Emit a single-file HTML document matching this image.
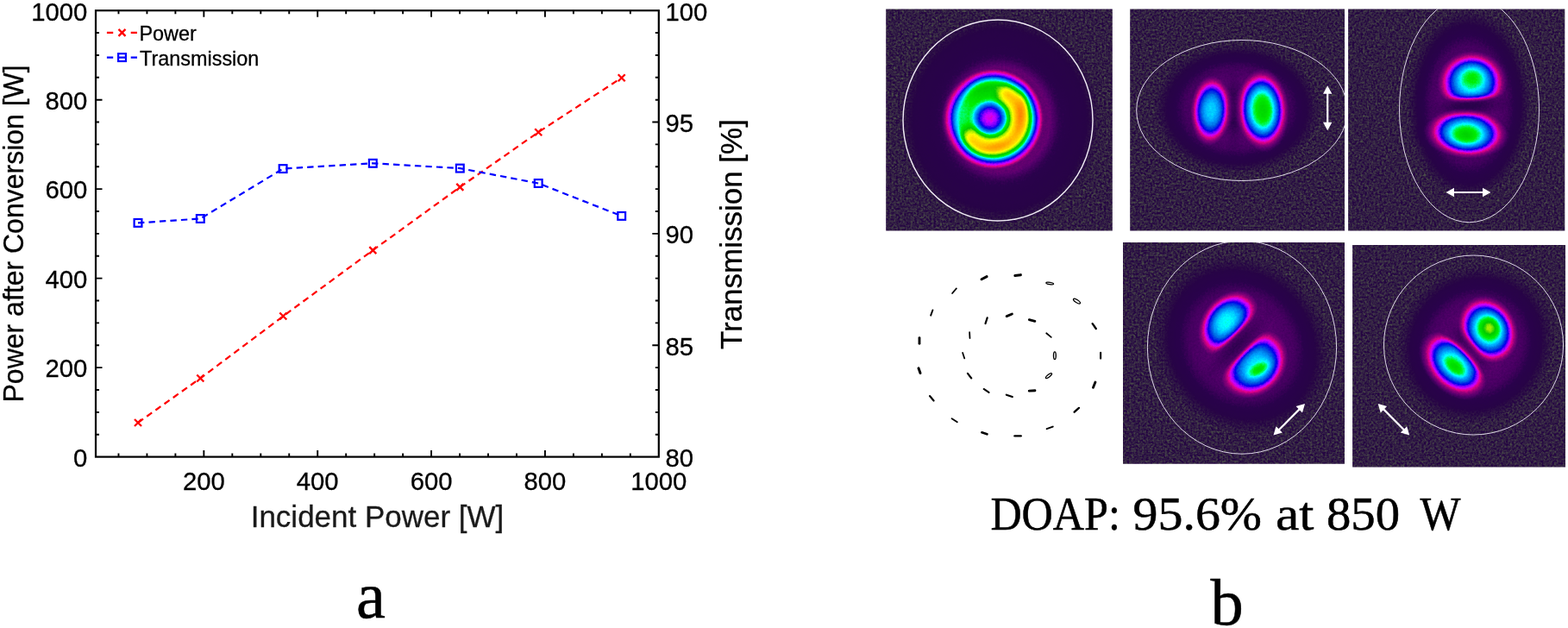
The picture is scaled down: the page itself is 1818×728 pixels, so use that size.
<!DOCTYPE html>
<html lang="en"><head><meta charset="utf-8"><title>Figure</title>
<style>html,body{margin:0;padding:0;background:#fff}body{width:1818px;height:728px;overflow:hidden}svg{display:block}</style>
</head><body>
<svg width="1818" height="728" viewBox="0 0 1818 728">
<rect width="1818" height="728" fill="#fff"/>
<defs>
<clipPath id="cp0"><rect x="1027.2" y="10.6" width="262.6" height="257.0"/></clipPath>
<filter id="cm0" filterUnits="userSpaceOnUse" x="1015.2" y="-1.4" width="286.6" height="281.0" color-interpolation-filters="sRGB"><feTurbulence type="fractalNoise" baseFrequency="0.41" numOctaves="2" seed="3" result="n"/><feColorMatrix in="n" type="matrix" values="0 0 0 0 0.337 0 0 0 0 0.392 0 0 0 0 0.290 0.3333 0.3333 0.3333 0 0" result="n1"/><feGaussianBlur in="n1" stdDeviation="0.3" result="n2"/><feComponentTransfer in="n2" result="sp"><feFuncA type="linear" slope="3.0" intercept="-1.170"/></feComponentTransfer><feColorMatrix in="SourceGraphic" type="matrix" values="0 0 0 0 0 0 0 0 0 0 0 0 0 0 0 -18 0 0 0 0.9" result="mk"/><feComposite in="sp" in2="mk" operator="in" result="spm"/><feColorMatrix in="n" type="matrix" values="0 1 0 0 0 0 1 0 0 0 0 1 0 0 0 0 0 0 0 1" result="ng"/><feComposite in="SourceGraphic" in2="ng" operator="arithmetic" k1="0" k2="1" k3="0.03" k4="-0.0150" result="s"/><feComponentTransfer in="s" result="col"><feFuncR type="table" tableValues="0.145 0.146 0.147 0.147 0.148 0.149 0.15 0.15 0.151 0.152 0.153 0.154 0.154 0.155 0.156 0.157 0.157 0.158 0.159 0.16 0.16 0.161 0.162 0.163 0.164 0.164 0.171 0.185 0.198 0.211 0.224 0.237 0.251 0.264 0.277 0.29 0.304 0.317 0.33 0.346 0.363 0.38 0.397 0.414 0.431 0.448 0.464 0.481 0.498 0.515 0.532 0.549 0.578 0.607 0.636 0.665 0.694 0.723 0.752 0.781 0.81 0.84 0.869 0.878 0.871 0.863 0.855 0.848 0.84 0.832 0.824 0.817 0.809 0.791 0.753 0.715 0.676 0.638 0.599 0.561 0.522 0.471 0.414 0.357 0.3 0.243 0.186 0.129 0.071 0.014 0 0 0 0 0 0 0 0 0 0 0 0 0 0 0 0 0 0 0 0 0 0 0 0 0 0 0 0 0 0 0 0 0 0 0 0 0 0 0 0 0 0 0 0 0 0 0 0 0 0 0 0 0 0 0 0 0 0 0 0 0 0 0 0 0 0 0 0 0 0 0 0 0 0 0 0 0 0 0 0.027 0.065 0.104 0.142 0.181 0.219 0.258 0.296 0.334 0.373 0.411 0.45 0.488 0.527 0.565 0.599 0.626 0.653 0.68 0.707 0.734 0.76 0.787 0.814 0.841 0.868 0.895 0.922 0.949 0.976 1 1 1 1 1 1 1 1 1 1 1 1 1 1 1 1 1 1 1 1 1 1 1 1 1 1 1 1 1 1 1 1 1 1 1 1 1 1 1 1 1 1 1 1 1 1 1 1 1 1 1 1 1 1 1 1 1"/><feFuncG type="table" tableValues="0.02 0.019 0.019 0.018 0.018 0.017 0.017 0.016 0.016 0.015 0.015 0.015 0.014 0.014 0.013 0.013 0.012 0.012 0.011 0.011 0.01 0.01 0.009 0.009 0.009 0.008 0.008 0.007 0.006 0.006 0.005 0.004 0.004 0.003 0.003 0.002 0.001 0.001 0 0 0 0 0 0 0 0 0 0 0 0 0 0 0 0 0 0 0 0 0 0 0 0 0 0 0 0 0 0 0 0 0 0 0 0 0 0 0 0 0 0 0 0 0 0 0 0 0 0 0 0 0.019 0.045 0.07 0.096 0.122 0.147 0.173 0.199 0.224 0.25 0.276 0.301 0.327 0.352 0.378 0.401 0.421 0.441 0.461 0.481 0.501 0.521 0.541 0.561 0.581 0.601 0.621 0.641 0.666 0.694 0.722 0.749 0.777 0.805 0.833 0.86 0.888 0.916 0.943 0.971 0.999 0.998 0.996 0.994 0.991 0.989 0.987 0.985 0.983 0.98 0.975 0.97 0.964 0.959 0.954 0.949 0.943 0.938 0.933 0.925 0.918 0.911 0.903 0.896 0.889 0.881 0.874 0.867 0.86 0.852 0.845 0.838 0.83 0.823 0.816 0.808 0.801 0.794 0.787 0.791 0.8 0.809 0.818 0.826 0.835 0.844 0.853 0.862 0.871 0.88 0.889 0.898 0.907 0.916 0.924 0.929 0.934 0.939 0.944 0.949 0.954 0.96 0.965 0.97 0.975 0.98 0.985 0.99 0.995 0.999 0.986 0.972 0.959 0.946 0.933 0.92 0.906 0.893 0.88 0.867 0.854 0.841 0.827 0.814 0.801 0.788 0.775 0.762 0.75 0.738 0.725 0.713 0.701 0.689 0.677 0.665 0.653 0.641 0.629 0.617 0.605 0.593 0.58 0.568 0.556 0.541 0.522 0.503 0.484 0.464 0.445 0.426 0.407 0.388 0.368 0.349 0.33 0.311 0.291 0.272 0.253 0.234 0.215 0.195 0.176 0.157"/><feFuncB type="table" tableValues="0.259 0.26 0.262 0.263 0.265 0.267 0.268 0.27 0.271 0.273 0.274 0.276 0.277 0.279 0.28 0.282 0.283 0.285 0.287 0.288 0.29 0.291 0.293 0.294 0.296 0.297 0.303 0.313 0.323 0.332 0.342 0.352 0.362 0.372 0.382 0.392 0.401 0.411 0.421 0.427 0.431 0.435 0.44 0.444 0.448 0.453 0.457 0.461 0.466 0.47 0.474 0.478 0.483 0.487 0.492 0.496 0.501 0.505 0.51 0.514 0.518 0.523 0.527 0.554 0.6 0.646 0.692 0.738 0.784 0.83 0.877 0.923 0.969 1 1 1 1 1 1 1 1 0.994 0.985 0.976 0.968 0.959 0.95 0.941 0.933 0.924 0.92 0.917 0.915 0.912 0.909 0.907 0.904 0.902 0.899 0.897 0.894 0.891 0.889 0.886 0.884 0.887 0.896 0.905 0.914 0.923 0.933 0.942 0.951 0.96 0.97 0.979 0.988 0.997 1 1 1 1 1 1 1 1 1 1 1 1 1 0.935 0.867 0.799 0.731 0.663 0.595 0.527 0.459 0.391 0.347 0.303 0.259 0.215 0.171 0.127 0.083 0.04 0 0 0 0 0 0 0 0 0 0 0 0 0 0 0 0 0 0 0 0 0 0 0 0 0 0 0 0 0 0 0 0 0 0 0 0 0 0 0 0 0 0 0 0 0 0 0 0 0 0 0 0 0 0 0 0 0 0 0 0 0 0 0 0 0 0 0 0 0 0 0 0 0 0 0 0 0 0 0 0 0 0 0 0 0 0 0 0 0 0 0 0 0 0 0 0 0 0 0 0 0 0 0 0 0 0 0 0"/></feComponentTransfer><feMerge result="m"><feMergeNode in="col"/><feMergeNode in="spm"/></feMerge><feGaussianBlur in="m" stdDeviation="0.6"/></filter>
<clipPath id="cp1"><rect x="1310.2" y="10.6" width="248.8" height="257.0"/></clipPath>
<filter id="cm1" filterUnits="userSpaceOnUse" x="1298.2" y="-1.4" width="272.8" height="281.0" color-interpolation-filters="sRGB"><feTurbulence type="fractalNoise" baseFrequency="0.41" numOctaves="2" seed="4" result="n"/><feColorMatrix in="n" type="matrix" values="0 0 0 0 0.337 0 0 0 0 0.392 0 0 0 0 0.290 0.3333 0.3333 0.3333 0 0" result="n1"/><feGaussianBlur in="n1" stdDeviation="0.3" result="n2"/><feComponentTransfer in="n2" result="sp"><feFuncA type="linear" slope="3.0" intercept="-1.170"/></feComponentTransfer><feColorMatrix in="SourceGraphic" type="matrix" values="0 0 0 0 0 0 0 0 0 0 0 0 0 0 0 -18 0 0 0 0.9" result="mk"/><feComposite in="sp" in2="mk" operator="in" result="spm"/><feColorMatrix in="n" type="matrix" values="0 1 0 0 0 0 1 0 0 0 0 1 0 0 0 0 0 0 0 1" result="ng"/><feComposite in="SourceGraphic" in2="ng" operator="arithmetic" k1="0" k2="1" k3="0.03" k4="-0.0150" result="s"/><feComponentTransfer in="s" result="col"><feFuncR type="table" tableValues="0.145 0.146 0.147 0.147 0.148 0.149 0.15 0.15 0.151 0.152 0.153 0.154 0.154 0.155 0.156 0.157 0.157 0.158 0.159 0.16 0.16 0.161 0.162 0.163 0.164 0.164 0.171 0.185 0.198 0.211 0.224 0.237 0.251 0.264 0.277 0.29 0.304 0.317 0.33 0.346 0.363 0.38 0.397 0.414 0.431 0.448 0.464 0.481 0.498 0.515 0.532 0.549 0.578 0.607 0.636 0.665 0.694 0.723 0.752 0.781 0.81 0.84 0.869 0.878 0.871 0.863 0.855 0.848 0.84 0.832 0.824 0.817 0.809 0.791 0.753 0.715 0.676 0.638 0.599 0.561 0.522 0.471 0.414 0.357 0.3 0.243 0.186 0.129 0.071 0.014 0 0 0 0 0 0 0 0 0 0 0 0 0 0 0 0 0 0 0 0 0 0 0 0 0 0 0 0 0 0 0 0 0 0 0 0 0 0 0 0 0 0 0 0 0 0 0 0 0 0 0 0 0 0 0 0 0 0 0 0 0 0 0 0 0 0 0 0 0 0 0 0 0 0 0 0 0 0 0 0.027 0.065 0.104 0.142 0.181 0.219 0.258 0.296 0.334 0.373 0.411 0.45 0.488 0.527 0.565 0.599 0.626 0.653 0.68 0.707 0.734 0.76 0.787 0.814 0.841 0.868 0.895 0.922 0.949 0.976 1 1 1 1 1 1 1 1 1 1 1 1 1 1 1 1 1 1 1 1 1 1 1 1 1 1 1 1 1 1 1 1 1 1 1 1 1 1 1 1 1 1 1 1 1 1 1 1 1 1 1 1 1 1 1 1 1"/><feFuncG type="table" tableValues="0.02 0.019 0.019 0.018 0.018 0.017 0.017 0.016 0.016 0.015 0.015 0.015 0.014 0.014 0.013 0.013 0.012 0.012 0.011 0.011 0.01 0.01 0.009 0.009 0.009 0.008 0.008 0.007 0.006 0.006 0.005 0.004 0.004 0.003 0.003 0.002 0.001 0.001 0 0 0 0 0 0 0 0 0 0 0 0 0 0 0 0 0 0 0 0 0 0 0 0 0 0 0 0 0 0 0 0 0 0 0 0 0 0 0 0 0 0 0 0 0 0 0 0 0 0 0 0 0.019 0.045 0.07 0.096 0.122 0.147 0.173 0.199 0.224 0.25 0.276 0.301 0.327 0.352 0.378 0.401 0.421 0.441 0.461 0.481 0.501 0.521 0.541 0.561 0.581 0.601 0.621 0.641 0.666 0.694 0.722 0.749 0.777 0.805 0.833 0.86 0.888 0.916 0.943 0.971 0.999 0.998 0.996 0.994 0.991 0.989 0.987 0.985 0.983 0.98 0.975 0.97 0.964 0.959 0.954 0.949 0.943 0.938 0.933 0.925 0.918 0.911 0.903 0.896 0.889 0.881 0.874 0.867 0.86 0.852 0.845 0.838 0.83 0.823 0.816 0.808 0.801 0.794 0.787 0.791 0.8 0.809 0.818 0.826 0.835 0.844 0.853 0.862 0.871 0.88 0.889 0.898 0.907 0.916 0.924 0.929 0.934 0.939 0.944 0.949 0.954 0.96 0.965 0.97 0.975 0.98 0.985 0.99 0.995 0.999 0.986 0.972 0.959 0.946 0.933 0.92 0.906 0.893 0.88 0.867 0.854 0.841 0.827 0.814 0.801 0.788 0.775 0.762 0.75 0.738 0.725 0.713 0.701 0.689 0.677 0.665 0.653 0.641 0.629 0.617 0.605 0.593 0.58 0.568 0.556 0.541 0.522 0.503 0.484 0.464 0.445 0.426 0.407 0.388 0.368 0.349 0.33 0.311 0.291 0.272 0.253 0.234 0.215 0.195 0.176 0.157"/><feFuncB type="table" tableValues="0.259 0.26 0.262 0.263 0.265 0.267 0.268 0.27 0.271 0.273 0.274 0.276 0.277 0.279 0.28 0.282 0.283 0.285 0.287 0.288 0.29 0.291 0.293 0.294 0.296 0.297 0.303 0.313 0.323 0.332 0.342 0.352 0.362 0.372 0.382 0.392 0.401 0.411 0.421 0.427 0.431 0.435 0.44 0.444 0.448 0.453 0.457 0.461 0.466 0.47 0.474 0.478 0.483 0.487 0.492 0.496 0.501 0.505 0.51 0.514 0.518 0.523 0.527 0.554 0.6 0.646 0.692 0.738 0.784 0.83 0.877 0.923 0.969 1 1 1 1 1 1 1 1 0.994 0.985 0.976 0.968 0.959 0.95 0.941 0.933 0.924 0.92 0.917 0.915 0.912 0.909 0.907 0.904 0.902 0.899 0.897 0.894 0.891 0.889 0.886 0.884 0.887 0.896 0.905 0.914 0.923 0.933 0.942 0.951 0.96 0.97 0.979 0.988 0.997 1 1 1 1 1 1 1 1 1 1 1 1 1 0.935 0.867 0.799 0.731 0.663 0.595 0.527 0.459 0.391 0.347 0.303 0.259 0.215 0.171 0.127 0.083 0.04 0 0 0 0 0 0 0 0 0 0 0 0 0 0 0 0 0 0 0 0 0 0 0 0 0 0 0 0 0 0 0 0 0 0 0 0 0 0 0 0 0 0 0 0 0 0 0 0 0 0 0 0 0 0 0 0 0 0 0 0 0 0 0 0 0 0 0 0 0 0 0 0 0 0 0 0 0 0 0 0 0 0 0 0 0 0 0 0 0 0 0 0 0 0 0 0 0 0 0 0 0 0 0 0 0 0 0 0"/></feComponentTransfer><feMerge result="m"><feMergeNode in="col"/><feMergeNode in="spm"/></feMerge><feGaussianBlur in="m" stdDeviation="0.6"/></filter>
<clipPath id="cp2"><rect x="1563.1" y="10.6" width="251.2" height="257.0"/></clipPath>
<filter id="cm2" filterUnits="userSpaceOnUse" x="1551.1" y="-1.4" width="275.2" height="281.0" color-interpolation-filters="sRGB"><feTurbulence type="fractalNoise" baseFrequency="0.41" numOctaves="2" seed="5" result="n"/><feColorMatrix in="n" type="matrix" values="0 0 0 0 0.337 0 0 0 0 0.392 0 0 0 0 0.290 0.3333 0.3333 0.3333 0 0" result="n1"/><feGaussianBlur in="n1" stdDeviation="0.3" result="n2"/><feComponentTransfer in="n2" result="sp"><feFuncA type="linear" slope="3.0" intercept="-1.170"/></feComponentTransfer><feColorMatrix in="SourceGraphic" type="matrix" values="0 0 0 0 0 0 0 0 0 0 0 0 0 0 0 -18 0 0 0 0.9" result="mk"/><feComposite in="sp" in2="mk" operator="in" result="spm"/><feColorMatrix in="n" type="matrix" values="0 1 0 0 0 0 1 0 0 0 0 1 0 0 0 0 0 0 0 1" result="ng"/><feComposite in="SourceGraphic" in2="ng" operator="arithmetic" k1="0" k2="1" k3="0.03" k4="-0.0150" result="s"/><feComponentTransfer in="s" result="col"><feFuncR type="table" tableValues="0.145 0.146 0.147 0.147 0.148 0.149 0.15 0.15 0.151 0.152 0.153 0.154 0.154 0.155 0.156 0.157 0.157 0.158 0.159 0.16 0.16 0.161 0.162 0.163 0.164 0.164 0.171 0.185 0.198 0.211 0.224 0.237 0.251 0.264 0.277 0.29 0.304 0.317 0.33 0.346 0.363 0.38 0.397 0.414 0.431 0.448 0.464 0.481 0.498 0.515 0.532 0.549 0.578 0.607 0.636 0.665 0.694 0.723 0.752 0.781 0.81 0.84 0.869 0.878 0.871 0.863 0.855 0.848 0.84 0.832 0.824 0.817 0.809 0.791 0.753 0.715 0.676 0.638 0.599 0.561 0.522 0.471 0.414 0.357 0.3 0.243 0.186 0.129 0.071 0.014 0 0 0 0 0 0 0 0 0 0 0 0 0 0 0 0 0 0 0 0 0 0 0 0 0 0 0 0 0 0 0 0 0 0 0 0 0 0 0 0 0 0 0 0 0 0 0 0 0 0 0 0 0 0 0 0 0 0 0 0 0 0 0 0 0 0 0 0 0 0 0 0 0 0 0 0 0 0 0 0.027 0.065 0.104 0.142 0.181 0.219 0.258 0.296 0.334 0.373 0.411 0.45 0.488 0.527 0.565 0.599 0.626 0.653 0.68 0.707 0.734 0.76 0.787 0.814 0.841 0.868 0.895 0.922 0.949 0.976 1 1 1 1 1 1 1 1 1 1 1 1 1 1 1 1 1 1 1 1 1 1 1 1 1 1 1 1 1 1 1 1 1 1 1 1 1 1 1 1 1 1 1 1 1 1 1 1 1 1 1 1 1 1 1 1 1"/><feFuncG type="table" tableValues="0.02 0.019 0.019 0.018 0.018 0.017 0.017 0.016 0.016 0.015 0.015 0.015 0.014 0.014 0.013 0.013 0.012 0.012 0.011 0.011 0.01 0.01 0.009 0.009 0.009 0.008 0.008 0.007 0.006 0.006 0.005 0.004 0.004 0.003 0.003 0.002 0.001 0.001 0 0 0 0 0 0 0 0 0 0 0 0 0 0 0 0 0 0 0 0 0 0 0 0 0 0 0 0 0 0 0 0 0 0 0 0 0 0 0 0 0 0 0 0 0 0 0 0 0 0 0 0 0.019 0.045 0.07 0.096 0.122 0.147 0.173 0.199 0.224 0.25 0.276 0.301 0.327 0.352 0.378 0.401 0.421 0.441 0.461 0.481 0.501 0.521 0.541 0.561 0.581 0.601 0.621 0.641 0.666 0.694 0.722 0.749 0.777 0.805 0.833 0.86 0.888 0.916 0.943 0.971 0.999 0.998 0.996 0.994 0.991 0.989 0.987 0.985 0.983 0.98 0.975 0.97 0.964 0.959 0.954 0.949 0.943 0.938 0.933 0.925 0.918 0.911 0.903 0.896 0.889 0.881 0.874 0.867 0.86 0.852 0.845 0.838 0.83 0.823 0.816 0.808 0.801 0.794 0.787 0.791 0.8 0.809 0.818 0.826 0.835 0.844 0.853 0.862 0.871 0.88 0.889 0.898 0.907 0.916 0.924 0.929 0.934 0.939 0.944 0.949 0.954 0.96 0.965 0.97 0.975 0.98 0.985 0.99 0.995 0.999 0.986 0.972 0.959 0.946 0.933 0.92 0.906 0.893 0.88 0.867 0.854 0.841 0.827 0.814 0.801 0.788 0.775 0.762 0.75 0.738 0.725 0.713 0.701 0.689 0.677 0.665 0.653 0.641 0.629 0.617 0.605 0.593 0.58 0.568 0.556 0.541 0.522 0.503 0.484 0.464 0.445 0.426 0.407 0.388 0.368 0.349 0.33 0.311 0.291 0.272 0.253 0.234 0.215 0.195 0.176 0.157"/><feFuncB type="table" tableValues="0.259 0.26 0.262 0.263 0.265 0.267 0.268 0.27 0.271 0.273 0.274 0.276 0.277 0.279 0.28 0.282 0.283 0.285 0.287 0.288 0.29 0.291 0.293 0.294 0.296 0.297 0.303 0.313 0.323 0.332 0.342 0.352 0.362 0.372 0.382 0.392 0.401 0.411 0.421 0.427 0.431 0.435 0.44 0.444 0.448 0.453 0.457 0.461 0.466 0.47 0.474 0.478 0.483 0.487 0.492 0.496 0.501 0.505 0.51 0.514 0.518 0.523 0.527 0.554 0.6 0.646 0.692 0.738 0.784 0.83 0.877 0.923 0.969 1 1 1 1 1 1 1 1 0.994 0.985 0.976 0.968 0.959 0.95 0.941 0.933 0.924 0.92 0.917 0.915 0.912 0.909 0.907 0.904 0.902 0.899 0.897 0.894 0.891 0.889 0.886 0.884 0.887 0.896 0.905 0.914 0.923 0.933 0.942 0.951 0.96 0.97 0.979 0.988 0.997 1 1 1 1 1 1 1 1 1 1 1 1 1 0.935 0.867 0.799 0.731 0.663 0.595 0.527 0.459 0.391 0.347 0.303 0.259 0.215 0.171 0.127 0.083 0.04 0 0 0 0 0 0 0 0 0 0 0 0 0 0 0 0 0 0 0 0 0 0 0 0 0 0 0 0 0 0 0 0 0 0 0 0 0 0 0 0 0 0 0 0 0 0 0 0 0 0 0 0 0 0 0 0 0 0 0 0 0 0 0 0 0 0 0 0 0 0 0 0 0 0 0 0 0 0 0 0 0 0 0 0 0 0 0 0 0 0 0 0 0 0 0 0 0 0 0 0 0 0 0 0 0 0 0 0"/></feComponentTransfer><feMerge result="m"><feMergeNode in="col"/><feMergeNode in="spm"/></feMerge><feGaussianBlur in="m" stdDeviation="0.6"/></filter>
<clipPath id="cp3"><rect x="1302.0" y="280.9" width="257.0" height="256.8"/></clipPath>
<filter id="cm3" filterUnits="userSpaceOnUse" x="1290.0" y="268.9" width="281.0" height="280.8" color-interpolation-filters="sRGB"><feTurbulence type="fractalNoise" baseFrequency="0.41" numOctaves="2" seed="6" result="n"/><feColorMatrix in="n" type="matrix" values="0 0 0 0 0.337 0 0 0 0 0.392 0 0 0 0 0.290 0.3333 0.3333 0.3333 0 0" result="n1"/><feGaussianBlur in="n1" stdDeviation="0.3" result="n2"/><feComponentTransfer in="n2" result="sp"><feFuncA type="linear" slope="3.0" intercept="-1.170"/></feComponentTransfer><feColorMatrix in="SourceGraphic" type="matrix" values="0 0 0 0 0 0 0 0 0 0 0 0 0 0 0 -18 0 0 0 0.9" result="mk"/><feComposite in="sp" in2="mk" operator="in" result="spm"/><feColorMatrix in="n" type="matrix" values="0 1 0 0 0 0 1 0 0 0 0 1 0 0 0 0 0 0 0 1" result="ng"/><feComposite in="SourceGraphic" in2="ng" operator="arithmetic" k1="0" k2="1" k3="0.03" k4="-0.0150" result="s"/><feComponentTransfer in="s" result="col"><feFuncR type="table" tableValues="0.145 0.146 0.147 0.147 0.148 0.149 0.15 0.15 0.151 0.152 0.153 0.154 0.154 0.155 0.156 0.157 0.157 0.158 0.159 0.16 0.16 0.161 0.162 0.163 0.164 0.164 0.171 0.185 0.198 0.211 0.224 0.237 0.251 0.264 0.277 0.29 0.304 0.317 0.33 0.346 0.363 0.38 0.397 0.414 0.431 0.448 0.464 0.481 0.498 0.515 0.532 0.549 0.578 0.607 0.636 0.665 0.694 0.723 0.752 0.781 0.81 0.84 0.869 0.878 0.871 0.863 0.855 0.848 0.84 0.832 0.824 0.817 0.809 0.791 0.753 0.715 0.676 0.638 0.599 0.561 0.522 0.471 0.414 0.357 0.3 0.243 0.186 0.129 0.071 0.014 0 0 0 0 0 0 0 0 0 0 0 0 0 0 0 0 0 0 0 0 0 0 0 0 0 0 0 0 0 0 0 0 0 0 0 0 0 0 0 0 0 0 0 0 0 0 0 0 0 0 0 0 0 0 0 0 0 0 0 0 0 0 0 0 0 0 0 0 0 0 0 0 0 0 0 0 0 0 0 0.027 0.065 0.104 0.142 0.181 0.219 0.258 0.296 0.334 0.373 0.411 0.45 0.488 0.527 0.565 0.599 0.626 0.653 0.68 0.707 0.734 0.76 0.787 0.814 0.841 0.868 0.895 0.922 0.949 0.976 1 1 1 1 1 1 1 1 1 1 1 1 1 1 1 1 1 1 1 1 1 1 1 1 1 1 1 1 1 1 1 1 1 1 1 1 1 1 1 1 1 1 1 1 1 1 1 1 1 1 1 1 1 1 1 1 1"/><feFuncG type="table" tableValues="0.02 0.019 0.019 0.018 0.018 0.017 0.017 0.016 0.016 0.015 0.015 0.015 0.014 0.014 0.013 0.013 0.012 0.012 0.011 0.011 0.01 0.01 0.009 0.009 0.009 0.008 0.008 0.007 0.006 0.006 0.005 0.004 0.004 0.003 0.003 0.002 0.001 0.001 0 0 0 0 0 0 0 0 0 0 0 0 0 0 0 0 0 0 0 0 0 0 0 0 0 0 0 0 0 0 0 0 0 0 0 0 0 0 0 0 0 0 0 0 0 0 0 0 0 0 0 0 0.019 0.045 0.07 0.096 0.122 0.147 0.173 0.199 0.224 0.25 0.276 0.301 0.327 0.352 0.378 0.401 0.421 0.441 0.461 0.481 0.501 0.521 0.541 0.561 0.581 0.601 0.621 0.641 0.666 0.694 0.722 0.749 0.777 0.805 0.833 0.86 0.888 0.916 0.943 0.971 0.999 0.998 0.996 0.994 0.991 0.989 0.987 0.985 0.983 0.98 0.975 0.97 0.964 0.959 0.954 0.949 0.943 0.938 0.933 0.925 0.918 0.911 0.903 0.896 0.889 0.881 0.874 0.867 0.86 0.852 0.845 0.838 0.83 0.823 0.816 0.808 0.801 0.794 0.787 0.791 0.8 0.809 0.818 0.826 0.835 0.844 0.853 0.862 0.871 0.88 0.889 0.898 0.907 0.916 0.924 0.929 0.934 0.939 0.944 0.949 0.954 0.96 0.965 0.97 0.975 0.98 0.985 0.99 0.995 0.999 0.986 0.972 0.959 0.946 0.933 0.92 0.906 0.893 0.88 0.867 0.854 0.841 0.827 0.814 0.801 0.788 0.775 0.762 0.75 0.738 0.725 0.713 0.701 0.689 0.677 0.665 0.653 0.641 0.629 0.617 0.605 0.593 0.58 0.568 0.556 0.541 0.522 0.503 0.484 0.464 0.445 0.426 0.407 0.388 0.368 0.349 0.33 0.311 0.291 0.272 0.253 0.234 0.215 0.195 0.176 0.157"/><feFuncB type="table" tableValues="0.259 0.26 0.262 0.263 0.265 0.267 0.268 0.27 0.271 0.273 0.274 0.276 0.277 0.279 0.28 0.282 0.283 0.285 0.287 0.288 0.29 0.291 0.293 0.294 0.296 0.297 0.303 0.313 0.323 0.332 0.342 0.352 0.362 0.372 0.382 0.392 0.401 0.411 0.421 0.427 0.431 0.435 0.44 0.444 0.448 0.453 0.457 0.461 0.466 0.47 0.474 0.478 0.483 0.487 0.492 0.496 0.501 0.505 0.51 0.514 0.518 0.523 0.527 0.554 0.6 0.646 0.692 0.738 0.784 0.83 0.877 0.923 0.969 1 1 1 1 1 1 1 1 0.994 0.985 0.976 0.968 0.959 0.95 0.941 0.933 0.924 0.92 0.917 0.915 0.912 0.909 0.907 0.904 0.902 0.899 0.897 0.894 0.891 0.889 0.886 0.884 0.887 0.896 0.905 0.914 0.923 0.933 0.942 0.951 0.96 0.97 0.979 0.988 0.997 1 1 1 1 1 1 1 1 1 1 1 1 1 0.935 0.867 0.799 0.731 0.663 0.595 0.527 0.459 0.391 0.347 0.303 0.259 0.215 0.171 0.127 0.083 0.04 0 0 0 0 0 0 0 0 0 0 0 0 0 0 0 0 0 0 0 0 0 0 0 0 0 0 0 0 0 0 0 0 0 0 0 0 0 0 0 0 0 0 0 0 0 0 0 0 0 0 0 0 0 0 0 0 0 0 0 0 0 0 0 0 0 0 0 0 0 0 0 0 0 0 0 0 0 0 0 0 0 0 0 0 0 0 0 0 0 0 0 0 0 0 0 0 0 0 0 0 0 0 0 0 0 0 0 0"/></feComponentTransfer><feMerge result="m"><feMergeNode in="col"/><feMergeNode in="spm"/></feMerge><feGaussianBlur in="m" stdDeviation="0.6"/></filter>
<clipPath id="cp4"><rect x="1568.1" y="284.1" width="246.9" height="257.5"/></clipPath>
<filter id="cm4" filterUnits="userSpaceOnUse" x="1556.1" y="272.1" width="270.9" height="281.5" color-interpolation-filters="sRGB"><feTurbulence type="fractalNoise" baseFrequency="0.41" numOctaves="2" seed="7" result="n"/><feColorMatrix in="n" type="matrix" values="0 0 0 0 0.337 0 0 0 0 0.392 0 0 0 0 0.290 0.3333 0.3333 0.3333 0 0" result="n1"/><feGaussianBlur in="n1" stdDeviation="0.3" result="n2"/><feComponentTransfer in="n2" result="sp"><feFuncA type="linear" slope="3.0" intercept="-1.170"/></feComponentTransfer><feColorMatrix in="SourceGraphic" type="matrix" values="0 0 0 0 0 0 0 0 0 0 0 0 0 0 0 -18 0 0 0 0.9" result="mk"/><feComposite in="sp" in2="mk" operator="in" result="spm"/><feColorMatrix in="n" type="matrix" values="0 1 0 0 0 0 1 0 0 0 0 1 0 0 0 0 0 0 0 1" result="ng"/><feComposite in="SourceGraphic" in2="ng" operator="arithmetic" k1="0" k2="1" k3="0.03" k4="-0.0150" result="s"/><feComponentTransfer in="s" result="col"><feFuncR type="table" tableValues="0.145 0.146 0.147 0.147 0.148 0.149 0.15 0.15 0.151 0.152 0.153 0.154 0.154 0.155 0.156 0.157 0.157 0.158 0.159 0.16 0.16 0.161 0.162 0.163 0.164 0.164 0.171 0.185 0.198 0.211 0.224 0.237 0.251 0.264 0.277 0.29 0.304 0.317 0.33 0.346 0.363 0.38 0.397 0.414 0.431 0.448 0.464 0.481 0.498 0.515 0.532 0.549 0.578 0.607 0.636 0.665 0.694 0.723 0.752 0.781 0.81 0.84 0.869 0.878 0.871 0.863 0.855 0.848 0.84 0.832 0.824 0.817 0.809 0.791 0.753 0.715 0.676 0.638 0.599 0.561 0.522 0.471 0.414 0.357 0.3 0.243 0.186 0.129 0.071 0.014 0 0 0 0 0 0 0 0 0 0 0 0 0 0 0 0 0 0 0 0 0 0 0 0 0 0 0 0 0 0 0 0 0 0 0 0 0 0 0 0 0 0 0 0 0 0 0 0 0 0 0 0 0 0 0 0 0 0 0 0 0 0 0 0 0 0 0 0 0 0 0 0 0 0 0 0 0 0 0 0.027 0.065 0.104 0.142 0.181 0.219 0.258 0.296 0.334 0.373 0.411 0.45 0.488 0.527 0.565 0.599 0.626 0.653 0.68 0.707 0.734 0.76 0.787 0.814 0.841 0.868 0.895 0.922 0.949 0.976 1 1 1 1 1 1 1 1 1 1 1 1 1 1 1 1 1 1 1 1 1 1 1 1 1 1 1 1 1 1 1 1 1 1 1 1 1 1 1 1 1 1 1 1 1 1 1 1 1 1 1 1 1 1 1 1 1"/><feFuncG type="table" tableValues="0.02 0.019 0.019 0.018 0.018 0.017 0.017 0.016 0.016 0.015 0.015 0.015 0.014 0.014 0.013 0.013 0.012 0.012 0.011 0.011 0.01 0.01 0.009 0.009 0.009 0.008 0.008 0.007 0.006 0.006 0.005 0.004 0.004 0.003 0.003 0.002 0.001 0.001 0 0 0 0 0 0 0 0 0 0 0 0 0 0 0 0 0 0 0 0 0 0 0 0 0 0 0 0 0 0 0 0 0 0 0 0 0 0 0 0 0 0 0 0 0 0 0 0 0 0 0 0 0.019 0.045 0.07 0.096 0.122 0.147 0.173 0.199 0.224 0.25 0.276 0.301 0.327 0.352 0.378 0.401 0.421 0.441 0.461 0.481 0.501 0.521 0.541 0.561 0.581 0.601 0.621 0.641 0.666 0.694 0.722 0.749 0.777 0.805 0.833 0.86 0.888 0.916 0.943 0.971 0.999 0.998 0.996 0.994 0.991 0.989 0.987 0.985 0.983 0.98 0.975 0.97 0.964 0.959 0.954 0.949 0.943 0.938 0.933 0.925 0.918 0.911 0.903 0.896 0.889 0.881 0.874 0.867 0.86 0.852 0.845 0.838 0.83 0.823 0.816 0.808 0.801 0.794 0.787 0.791 0.8 0.809 0.818 0.826 0.835 0.844 0.853 0.862 0.871 0.88 0.889 0.898 0.907 0.916 0.924 0.929 0.934 0.939 0.944 0.949 0.954 0.96 0.965 0.97 0.975 0.98 0.985 0.99 0.995 0.999 0.986 0.972 0.959 0.946 0.933 0.92 0.906 0.893 0.88 0.867 0.854 0.841 0.827 0.814 0.801 0.788 0.775 0.762 0.75 0.738 0.725 0.713 0.701 0.689 0.677 0.665 0.653 0.641 0.629 0.617 0.605 0.593 0.58 0.568 0.556 0.541 0.522 0.503 0.484 0.464 0.445 0.426 0.407 0.388 0.368 0.349 0.33 0.311 0.291 0.272 0.253 0.234 0.215 0.195 0.176 0.157"/><feFuncB type="table" tableValues="0.259 0.26 0.262 0.263 0.265 0.267 0.268 0.27 0.271 0.273 0.274 0.276 0.277 0.279 0.28 0.282 0.283 0.285 0.287 0.288 0.29 0.291 0.293 0.294 0.296 0.297 0.303 0.313 0.323 0.332 0.342 0.352 0.362 0.372 0.382 0.392 0.401 0.411 0.421 0.427 0.431 0.435 0.44 0.444 0.448 0.453 0.457 0.461 0.466 0.47 0.474 0.478 0.483 0.487 0.492 0.496 0.501 0.505 0.51 0.514 0.518 0.523 0.527 0.554 0.6 0.646 0.692 0.738 0.784 0.83 0.877 0.923 0.969 1 1 1 1 1 1 1 1 0.994 0.985 0.976 0.968 0.959 0.95 0.941 0.933 0.924 0.92 0.917 0.915 0.912 0.909 0.907 0.904 0.902 0.899 0.897 0.894 0.891 0.889 0.886 0.884 0.887 0.896 0.905 0.914 0.923 0.933 0.942 0.951 0.96 0.97 0.979 0.988 0.997 1 1 1 1 1 1 1 1 1 1 1 1 1 0.935 0.867 0.799 0.731 0.663 0.595 0.527 0.459 0.391 0.347 0.303 0.259 0.215 0.171 0.127 0.083 0.04 0 0 0 0 0 0 0 0 0 0 0 0 0 0 0 0 0 0 0 0 0 0 0 0 0 0 0 0 0 0 0 0 0 0 0 0 0 0 0 0 0 0 0 0 0 0 0 0 0 0 0 0 0 0 0 0 0 0 0 0 0 0 0 0 0 0 0 0 0 0 0 0 0 0 0 0 0 0 0 0 0 0 0 0 0 0 0 0 0 0 0 0 0 0 0 0 0 0 0 0 0 0 0 0 0 0 0 0"/></feComponentTransfer><feMerge result="m"><feMergeNode in="col"/><feMergeNode in="spm"/></feMerge><feGaussianBlur in="m" stdDeviation="0.6"/></filter>
<filter id="b3" x="-60%" y="-60%" width="220%" height="220%" color-interpolation-filters="sRGB"><feGaussianBlur stdDeviation="3"/></filter>
<filter id="b4" x="-60%" y="-60%" width="220%" height="220%" color-interpolation-filters="sRGB"><feGaussianBlur stdDeviation="4"/></filter>
<filter id="b5" x="-60%" y="-60%" width="220%" height="220%" color-interpolation-filters="sRGB"><feGaussianBlur stdDeviation="5"/></filter>
<filter id="b6" x="-60%" y="-60%" width="220%" height="220%" color-interpolation-filters="sRGB"><feGaussianBlur stdDeviation="6"/></filter>
<filter id="b8" x="-60%" y="-60%" width="220%" height="220%" color-interpolation-filters="sRGB"><feGaussianBlur stdDeviation="8"/></filter>
<radialGradient id="g1" gradientUnits="userSpaceOnUse" cx="0" cy="0" r="1" gradientTransform="translate(1183.5 131) rotate(6) scale(15 48)"><stop offset="0" stop-color="#fff" stop-opacity="0.5"/><stop offset="0.071" stop-color="#fff" stop-opacity="0.489"/><stop offset="0.143" stop-color="#fff" stop-opacity="0.456"/><stop offset="0.214" stop-color="#fff" stop-opacity="0.407"/><stop offset="0.286" stop-color="#fff" stop-opacity="0.346"/><stop offset="0.357" stop-color="#fff" stop-opacity="0.282"/><stop offset="0.429" stop-color="#fff" stop-opacity="0.219"/><stop offset="0.5" stop-color="#fff" stop-opacity="0.162"/><stop offset="0.571" stop-color="#fff" stop-opacity="0.115"/><stop offset="0.643" stop-color="#fff" stop-opacity="0.078"/><stop offset="0.714" stop-color="#fff" stop-opacity="0.05"/><stop offset="0.786" stop-color="#fff" stop-opacity="0.031"/><stop offset="0.857" stop-color="#fff" stop-opacity="0.018"/><stop offset="0.929" stop-color="#fff" stop-opacity="0.01"/><stop offset="1" stop-color="#fff" stop-opacity="0"/></radialGradient>
<radialGradient id="g2" gradientUnits="userSpaceOnUse" cx="0" cy="0" r="1" gradientTransform="translate(1156 170) rotate(-12) scale(36 12)"><stop offset="0" stop-color="#fff" stop-opacity="0.32"/><stop offset="0.071" stop-color="#fff" stop-opacity="0.313"/><stop offset="0.143" stop-color="#fff" stop-opacity="0.292"/><stop offset="0.214" stop-color="#fff" stop-opacity="0.26"/><stop offset="0.286" stop-color="#fff" stop-opacity="0.222"/><stop offset="0.357" stop-color="#fff" stop-opacity="0.18"/><stop offset="0.429" stop-color="#fff" stop-opacity="0.14"/><stop offset="0.5" stop-color="#fff" stop-opacity="0.104"/><stop offset="0.571" stop-color="#fff" stop-opacity="0.074"/><stop offset="0.643" stop-color="#fff" stop-opacity="0.05"/><stop offset="0.714" stop-color="#fff" stop-opacity="0.032"/><stop offset="0.786" stop-color="#fff" stop-opacity="0.02"/><stop offset="0.857" stop-color="#fff" stop-opacity="0.012"/><stop offset="0.929" stop-color="#fff" stop-opacity="0.007"/><stop offset="1" stop-color="#fff" stop-opacity="0"/></radialGradient>
<radialGradient id="g3" gradientUnits="userSpaceOnUse" cx="0" cy="0" r="1" gradientTransform="translate(1113 133) rotate(8) scale(27 90)"><stop offset="0" stop-color="#000" stop-opacity="0.16"/><stop offset="0.071" stop-color="#000" stop-opacity="0.156"/><stop offset="0.143" stop-color="#000" stop-opacity="0.146"/><stop offset="0.214" stop-color="#000" stop-opacity="0.13"/><stop offset="0.286" stop-color="#000" stop-opacity="0.111"/><stop offset="0.357" stop-color="#000" stop-opacity="0.09"/><stop offset="0.429" stop-color="#000" stop-opacity="0.07"/><stop offset="0.5" stop-color="#000" stop-opacity="0.052"/><stop offset="0.571" stop-color="#000" stop-opacity="0.037"/><stop offset="0.643" stop-color="#000" stop-opacity="0.025"/><stop offset="0.714" stop-color="#000" stop-opacity="0.016"/><stop offset="0.786" stop-color="#000" stop-opacity="0.01"/><stop offset="0.857" stop-color="#000" stop-opacity="0.006"/><stop offset="0.929" stop-color="#000" stop-opacity="0.003"/><stop offset="1" stop-color="#000" stop-opacity="0"/></radialGradient>
<radialGradient id="g4" gradientUnits="userSpaceOnUse" cx="0" cy="0" r="1" gradientTransform="translate(1147.7 136.8) rotate(0) scale(34.5 34.5)"><stop offset="0" stop-color="rgb(69,69,69)" stop-opacity="1"/><stop offset="0.16" stop-color="rgb(69,69,69)" stop-opacity="0.95"/><stop offset="0.34" stop-color="rgb(69,69,69)" stop-opacity="0.81"/><stop offset="0.5" stop-color="rgb(69,69,69)" stop-opacity="0.5"/><stop offset="0.58" stop-color="rgb(69,69,69)" stop-opacity="0.3"/><stop offset="0.72" stop-color="rgb(69,69,69)" stop-opacity="0.1"/><stop offset="1" stop-color="rgb(69,69,69)" stop-opacity="0"/></radialGradient>
<radialGradient id="g5" gradientUnits="userSpaceOnUse" cx="0" cy="0" r="1" gradientTransform="translate(1152.0 138.1) rotate(0) scale(77 77.385)"><stop offset="0" stop-color="#000" stop-opacity="0"/><stop offset="0.487" stop-color="#000" stop-opacity="0"/><stop offset="0.519" stop-color="#000" stop-opacity="0.04"/><stop offset="0.552" stop-color="#000" stop-opacity="0.11"/><stop offset="0.584" stop-color="#000" stop-opacity="0.215"/><stop offset="0.604" stop-color="#000" stop-opacity="0.29"/><stop offset="0.643" stop-color="#000" stop-opacity="0.46"/><stop offset="0.675" stop-color="#000" stop-opacity="0.54"/><stop offset="0.71" stop-color="#000" stop-opacity="0.623"/><stop offset="0.753" stop-color="#000" stop-opacity="0.75"/><stop offset="0.805" stop-color="#000" stop-opacity="0.87"/><stop offset="0.896" stop-color="#000" stop-opacity="0.96"/><stop offset="1" stop-color="#000" stop-opacity="1"/></radialGradient>
<radialGradient id="g6" gradientUnits="userSpaceOnUse" cx="0" cy="0" r="1" gradientTransform="translate(1159 139) rotate(0) scale(118 123)"><stop offset="0" stop-color="rgb(43,43,43)"/><stop offset="0.5" stop-color="rgb(41,41,41)"/><stop offset="0.58" stop-color="rgb(28,28,28)"/><stop offset="0.7" stop-color="rgb(19,19,19)"/><stop offset="0.82" stop-color="rgb(15,15,15)"/><stop offset="0.91" stop-color="rgb(8,8,8)"/><stop offset="1" stop-color="rgb(1,1,1)"/></radialGradient>
<radialGradient id="g7" gradientUnits="userSpaceOnUse" cx="0" cy="0" r="1" gradientTransform="translate(0 0) scale(37.046 62.332)"><stop offset="0" stop-color="#fff" stop-opacity="0.485"/><stop offset="0.062" stop-color="#fff" stop-opacity="0.484"/><stop offset="0.125" stop-color="#fff" stop-opacity="0.478"/><stop offset="0.188" stop-color="#fff" stop-opacity="0.463"/><stop offset="0.25" stop-color="#fff" stop-opacity="0.439"/><stop offset="0.312" stop-color="#fff" stop-opacity="0.404"/><stop offset="0.375" stop-color="#fff" stop-opacity="0.36"/><stop offset="0.438" stop-color="#fff" stop-opacity="0.309"/><stop offset="0.5" stop-color="#fff" stop-opacity="0.254"/><stop offset="0.562" stop-color="#fff" stop-opacity="0.199"/><stop offset="0.625" stop-color="#fff" stop-opacity="0.149"/><stop offset="0.688" stop-color="#fff" stop-opacity="0.105"/><stop offset="0.75" stop-color="#fff" stop-opacity="0.07"/><stop offset="0.812" stop-color="#fff" stop-opacity="0.044"/><stop offset="0.875" stop-color="#fff" stop-opacity="0.026"/><stop offset="0.938" stop-color="#fff" stop-opacity="0.014"/><stop offset="1" stop-color="#fff" stop-opacity="0"/></radialGradient>
<radialGradient id="g8" gradientUnits="userSpaceOnUse" cx="0" cy="0" r="1" gradientTransform="translate(0 0) scale(47.271 68.826)"><stop offset="0" stop-color="#fff" stop-opacity="0.52"/><stop offset="0.062" stop-color="#fff" stop-opacity="0.519"/><stop offset="0.125" stop-color="#fff" stop-opacity="0.512"/><stop offset="0.188" stop-color="#fff" stop-opacity="0.497"/><stop offset="0.25" stop-color="#fff" stop-opacity="0.471"/><stop offset="0.312" stop-color="#fff" stop-opacity="0.434"/><stop offset="0.375" stop-color="#fff" stop-opacity="0.386"/><stop offset="0.438" stop-color="#fff" stop-opacity="0.331"/><stop offset="0.5" stop-color="#fff" stop-opacity="0.272"/><stop offset="0.562" stop-color="#fff" stop-opacity="0.214"/><stop offset="0.625" stop-color="#fff" stop-opacity="0.16"/><stop offset="0.688" stop-color="#fff" stop-opacity="0.113"/><stop offset="0.75" stop-color="#fff" stop-opacity="0.075"/><stop offset="0.812" stop-color="#fff" stop-opacity="0.047"/><stop offset="0.875" stop-color="#fff" stop-opacity="0.028"/><stop offset="0.938" stop-color="#fff" stop-opacity="0.015"/><stop offset="1" stop-color="#fff" stop-opacity="0"/></radialGradient>
<radialGradient id="g9" gradientUnits="userSpaceOnUse" cx="0" cy="0" r="1" gradientTransform="translate(1464.8 127.4) rotate(-3) scale(27.247 55.857)"><stop offset="0" stop-color="#fff" stop-opacity="0.229"/><stop offset="0.083" stop-color="#fff" stop-opacity="0.222"/><stop offset="0.167" stop-color="#fff" stop-opacity="0.202"/><stop offset="0.25" stop-color="#fff" stop-opacity="0.173"/><stop offset="0.333" stop-color="#fff" stop-opacity="0.139"/><stop offset="0.417" stop-color="#fff" stop-opacity="0.105"/><stop offset="0.5" stop-color="#fff" stop-opacity="0.074"/><stop offset="0.583" stop-color="#fff" stop-opacity="0.05"/><stop offset="0.667" stop-color="#fff" stop-opacity="0.031"/><stop offset="0.75" stop-color="#fff" stop-opacity="0.018"/><stop offset="0.833" stop-color="#fff" stop-opacity="0.01"/><stop offset="0.917" stop-color="#fff" stop-opacity="0.005"/><stop offset="1" stop-color="#fff" stop-opacity="0"/></radialGradient>
<radialGradient id="g10" gradientUnits="userSpaceOnUse" cx="0" cy="0" r="1" gradientTransform="translate(1434 126) rotate(0) scale(97 76)"><stop offset="0" stop-color="rgb(40,40,40)"/><stop offset="0.45" stop-color="rgb(38,38,38)"/><stop offset="0.62" stop-color="rgb(33,33,33)"/><stop offset="0.72" stop-color="rgb(26,26,26)"/><stop offset="0.8" stop-color="rgb(15,15,15)"/><stop offset="0.9" stop-color="rgb(8,8,8)"/><stop offset="1" stop-color="rgb(1,1,1)"/></radialGradient>
<radialGradient id="g11" gradientUnits="userSpaceOnUse" cx="0" cy="0" r="1" gradientTransform="translate(1430.5 128) rotate(0) scale(16.5 66)"><stop offset="0" stop-color="#000" stop-opacity="0.4"/><stop offset="0.071" stop-color="#000" stop-opacity="0.391"/><stop offset="0.143" stop-color="#000" stop-opacity="0.365"/><stop offset="0.214" stop-color="#000" stop-opacity="0.325"/><stop offset="0.286" stop-color="#000" stop-opacity="0.277"/><stop offset="0.357" stop-color="#000" stop-opacity="0.225"/><stop offset="0.429" stop-color="#000" stop-opacity="0.175"/><stop offset="0.5" stop-color="#000" stop-opacity="0.13"/><stop offset="0.571" stop-color="#000" stop-opacity="0.092"/><stop offset="0.643" stop-color="#000" stop-opacity="0.062"/><stop offset="0.714" stop-color="#000" stop-opacity="0.04"/><stop offset="0.786" stop-color="#000" stop-opacity="0.025"/><stop offset="0.857" stop-color="#000" stop-opacity="0.015"/><stop offset="0.929" stop-color="#000" stop-opacity="0.008"/><stop offset="1" stop-color="#000" stop-opacity="0"/></radialGradient>
<radialGradient id="g12" gradientUnits="userSpaceOnUse" cx="0" cy="0" r="1" gradientTransform="translate(0 0) scale(61.718 57.282)"><stop offset="0" stop-color="#fff" stop-opacity="0.5"/><stop offset="0.062" stop-color="#fff" stop-opacity="0.499"/><stop offset="0.125" stop-color="#fff" stop-opacity="0.492"/><stop offset="0.188" stop-color="#fff" stop-opacity="0.478"/><stop offset="0.25" stop-color="#fff" stop-opacity="0.453"/><stop offset="0.312" stop-color="#fff" stop-opacity="0.417"/><stop offset="0.375" stop-color="#fff" stop-opacity="0.371"/><stop offset="0.438" stop-color="#fff" stop-opacity="0.319"/><stop offset="0.5" stop-color="#fff" stop-opacity="0.262"/><stop offset="0.562" stop-color="#fff" stop-opacity="0.206"/><stop offset="0.625" stop-color="#fff" stop-opacity="0.153"/><stop offset="0.688" stop-color="#fff" stop-opacity="0.108"/><stop offset="0.75" stop-color="#fff" stop-opacity="0.072"/><stop offset="0.812" stop-color="#fff" stop-opacity="0.045"/><stop offset="0.875" stop-color="#fff" stop-opacity="0.027"/><stop offset="0.938" stop-color="#fff" stop-opacity="0.015"/><stop offset="1" stop-color="#fff" stop-opacity="0"/></radialGradient>
<radialGradient id="g13" gradientUnits="userSpaceOnUse" cx="0" cy="0" r="1" gradientTransform="translate(1707.2 88.2) rotate(0) scale(36.611 30.51)"><stop offset="0" stop-color="#fff" stop-opacity="0.21"/><stop offset="0.083" stop-color="#fff" stop-opacity="0.204"/><stop offset="0.167" stop-color="#fff" stop-opacity="0.185"/><stop offset="0.25" stop-color="#fff" stop-opacity="0.159"/><stop offset="0.333" stop-color="#fff" stop-opacity="0.127"/><stop offset="0.417" stop-color="#fff" stop-opacity="0.096"/><stop offset="0.5" stop-color="#fff" stop-opacity="0.068"/><stop offset="0.583" stop-color="#fff" stop-opacity="0.045"/><stop offset="0.667" stop-color="#fff" stop-opacity="0.028"/><stop offset="0.75" stop-color="#fff" stop-opacity="0.017"/><stop offset="0.833" stop-color="#fff" stop-opacity="0.009"/><stop offset="0.917" stop-color="#fff" stop-opacity="0.005"/><stop offset="1" stop-color="#fff" stop-opacity="0"/></radialGradient>
<radialGradient id="g14" gradientUnits="userSpaceOnUse" cx="0" cy="0" r="1" gradientTransform="translate(0 0) scale(70.339 44.813)"><stop offset="0" stop-color="#fff" stop-opacity="0.52"/><stop offset="0.062" stop-color="#fff" stop-opacity="0.519"/><stop offset="0.125" stop-color="#fff" stop-opacity="0.512"/><stop offset="0.188" stop-color="#fff" stop-opacity="0.497"/><stop offset="0.25" stop-color="#fff" stop-opacity="0.471"/><stop offset="0.312" stop-color="#fff" stop-opacity="0.434"/><stop offset="0.375" stop-color="#fff" stop-opacity="0.386"/><stop offset="0.438" stop-color="#fff" stop-opacity="0.331"/><stop offset="0.5" stop-color="#fff" stop-opacity="0.272"/><stop offset="0.562" stop-color="#fff" stop-opacity="0.214"/><stop offset="0.625" stop-color="#fff" stop-opacity="0.16"/><stop offset="0.688" stop-color="#fff" stop-opacity="0.113"/><stop offset="0.75" stop-color="#fff" stop-opacity="0.075"/><stop offset="0.812" stop-color="#fff" stop-opacity="0.047"/><stop offset="0.875" stop-color="#fff" stop-opacity="0.028"/><stop offset="0.938" stop-color="#fff" stop-opacity="0.015"/><stop offset="1" stop-color="#fff" stop-opacity="0"/></radialGradient>
<radialGradient id="g15" gradientUnits="userSpaceOnUse" cx="0" cy="0" r="1" gradientTransform="translate(1700 156.8) rotate(4) scale(35.672 22.422)"><stop offset="0" stop-color="#fff" stop-opacity="0.25"/><stop offset="0.083" stop-color="#fff" stop-opacity="0.242"/><stop offset="0.167" stop-color="#fff" stop-opacity="0.221"/><stop offset="0.25" stop-color="#fff" stop-opacity="0.189"/><stop offset="0.333" stop-color="#fff" stop-opacity="0.152"/><stop offset="0.417" stop-color="#fff" stop-opacity="0.114"/><stop offset="0.5" stop-color="#fff" stop-opacity="0.081"/><stop offset="0.583" stop-color="#fff" stop-opacity="0.054"/><stop offset="0.667" stop-color="#fff" stop-opacity="0.034"/><stop offset="0.75" stop-color="#fff" stop-opacity="0.02"/><stop offset="0.833" stop-color="#fff" stop-opacity="0.011"/><stop offset="0.917" stop-color="#fff" stop-opacity="0.006"/><stop offset="1" stop-color="#fff" stop-opacity="0"/></radialGradient>
<radialGradient id="g16" gradientUnits="userSpaceOnUse" cx="0" cy="0" r="1" gradientTransform="translate(1703 121) rotate(0) scale(72 110)"><stop offset="0" stop-color="rgb(40,40,40)"/><stop offset="0.45" stop-color="rgb(38,38,38)"/><stop offset="0.62" stop-color="rgb(33,33,33)"/><stop offset="0.72" stop-color="rgb(26,26,26)"/><stop offset="0.8" stop-color="rgb(15,15,15)"/><stop offset="0.9" stop-color="rgb(8,8,8)"/><stop offset="1" stop-color="rgb(1,1,1)"/></radialGradient>
<radialGradient id="g17" gradientUnits="userSpaceOnUse" cx="0" cy="0" r="1" gradientTransform="translate(1703.5 123) rotate(-3) scale(66 16.5)"><stop offset="0" stop-color="#000" stop-opacity="0.4"/><stop offset="0.071" stop-color="#000" stop-opacity="0.391"/><stop offset="0.143" stop-color="#000" stop-opacity="0.365"/><stop offset="0.214" stop-color="#000" stop-opacity="0.325"/><stop offset="0.286" stop-color="#000" stop-opacity="0.277"/><stop offset="0.357" stop-color="#000" stop-opacity="0.225"/><stop offset="0.429" stop-color="#000" stop-opacity="0.175"/><stop offset="0.5" stop-color="#000" stop-opacity="0.13"/><stop offset="0.571" stop-color="#000" stop-opacity="0.092"/><stop offset="0.643" stop-color="#000" stop-opacity="0.062"/><stop offset="0.714" stop-color="#000" stop-opacity="0.04"/><stop offset="0.786" stop-color="#000" stop-opacity="0.025"/><stop offset="0.857" stop-color="#000" stop-opacity="0.015"/><stop offset="0.929" stop-color="#000" stop-opacity="0.008"/><stop offset="1" stop-color="#000" stop-opacity="0"/></radialGradient>
<radialGradient id="g18" gradientUnits="userSpaceOnUse" cx="0" cy="0" r="1" fx="0" fy="0.172" gradientTransform="translate(1426.9 376.2) rotate(131) scale(68.86 49.871)"><stop offset="0" stop-color="#fff" stop-opacity="0.5"/><stop offset="0.062" stop-color="#fff" stop-opacity="0.498"/><stop offset="0.125" stop-color="#fff" stop-opacity="0.488"/><stop offset="0.188" stop-color="#fff" stop-opacity="0.468"/><stop offset="0.25" stop-color="#fff" stop-opacity="0.436"/><stop offset="0.312" stop-color="#fff" stop-opacity="0.393"/><stop offset="0.375" stop-color="#fff" stop-opacity="0.341"/><stop offset="0.438" stop-color="#fff" stop-opacity="0.284"/><stop offset="0.5" stop-color="#fff" stop-opacity="0.226"/><stop offset="0.562" stop-color="#fff" stop-opacity="0.171"/><stop offset="0.625" stop-color="#fff" stop-opacity="0.123"/><stop offset="0.688" stop-color="#fff" stop-opacity="0.084"/><stop offset="0.75" stop-color="#fff" stop-opacity="0.054"/><stop offset="0.812" stop-color="#fff" stop-opacity="0.033"/><stop offset="0.875" stop-color="#fff" stop-opacity="0.019"/><stop offset="0.938" stop-color="#fff" stop-opacity="0.01"/><stop offset="1" stop-color="#fff" stop-opacity="0"/></radialGradient>
<radialGradient id="g19" gradientUnits="userSpaceOnUse" cx="0" cy="0" r="1" fx="0" fy="0.249" gradientTransform="translate(1448.0 416.0) rotate(-45) scale(73.033 62.495)"><stop offset="0" stop-color="#fff" stop-opacity="0.5"/><stop offset="0.062" stop-color="#fff" stop-opacity="0.498"/><stop offset="0.125" stop-color="#fff" stop-opacity="0.488"/><stop offset="0.188" stop-color="#fff" stop-opacity="0.468"/><stop offset="0.25" stop-color="#fff" stop-opacity="0.436"/><stop offset="0.312" stop-color="#fff" stop-opacity="0.393"/><stop offset="0.375" stop-color="#fff" stop-opacity="0.341"/><stop offset="0.438" stop-color="#fff" stop-opacity="0.284"/><stop offset="0.5" stop-color="#fff" stop-opacity="0.226"/><stop offset="0.562" stop-color="#fff" stop-opacity="0.171"/><stop offset="0.625" stop-color="#fff" stop-opacity="0.123"/><stop offset="0.688" stop-color="#fff" stop-opacity="0.084"/><stop offset="0.75" stop-color="#fff" stop-opacity="0.054"/><stop offset="0.812" stop-color="#fff" stop-opacity="0.033"/><stop offset="0.875" stop-color="#fff" stop-opacity="0.019"/><stop offset="0.938" stop-color="#fff" stop-opacity="0.01"/><stop offset="1" stop-color="#fff" stop-opacity="0"/></radialGradient>
<radialGradient id="g20" gradientUnits="userSpaceOnUse" cx="0" cy="0" r="1" gradientTransform="translate(1459.4 428.2) rotate(-30) scale(26.314 12.781)"><stop offset="0" stop-color="#fff" stop-opacity="0.22"/><stop offset="0.083" stop-color="#fff" stop-opacity="0.213"/><stop offset="0.167" stop-color="#fff" stop-opacity="0.194"/><stop offset="0.25" stop-color="#fff" stop-opacity="0.166"/><stop offset="0.333" stop-color="#fff" stop-opacity="0.133"/><stop offset="0.417" stop-color="#fff" stop-opacity="0.101"/><stop offset="0.5" stop-color="#fff" stop-opacity="0.071"/><stop offset="0.583" stop-color="#fff" stop-opacity="0.048"/><stop offset="0.667" stop-color="#fff" stop-opacity="0.03"/><stop offset="0.75" stop-color="#fff" stop-opacity="0.018"/><stop offset="0.833" stop-color="#fff" stop-opacity="0.01"/><stop offset="0.917" stop-color="#fff" stop-opacity="0.005"/><stop offset="1" stop-color="#fff" stop-opacity="0"/></radialGradient>
<radialGradient id="g21" gradientUnits="userSpaceOnUse" cx="0" cy="0" r="1" gradientTransform="translate(1434.4 400.4) rotate(-45) scale(135 24)"><stop offset="0" stop-color="#000" stop-opacity="1"/><stop offset="0.071" stop-color="#000" stop-opacity="0.977"/><stop offset="0.143" stop-color="#000" stop-opacity="0.912"/><stop offset="0.214" stop-color="#000" stop-opacity="0.813"/><stop offset="0.286" stop-color="#000" stop-opacity="0.693"/><stop offset="0.357" stop-color="#000" stop-opacity="0.563"/><stop offset="0.429" stop-color="#000" stop-opacity="0.438"/><stop offset="0.5" stop-color="#000" stop-opacity="0.325"/><stop offset="0.571" stop-color="#000" stop-opacity="0.23"/><stop offset="0.643" stop-color="#000" stop-opacity="0.156"/><stop offset="0.714" stop-color="#000" stop-opacity="0.101"/><stop offset="0.786" stop-color="#000" stop-opacity="0.062"/><stop offset="0.857" stop-color="#000" stop-opacity="0.037"/><stop offset="0.929" stop-color="#000" stop-opacity="0.021"/><stop offset="1" stop-color="#000" stop-opacity="0"/></radialGradient>
<radialGradient id="g22" gradientUnits="userSpaceOnUse" cx="0" cy="0" r="1" gradientTransform="translate(1440 400) rotate(-40) scale(98 110)"><stop offset="0" stop-color="rgb(40,40,40)"/><stop offset="0.4" stop-color="rgb(38,38,38)"/><stop offset="0.58" stop-color="rgb(34,34,34)"/><stop offset="0.68" stop-color="rgb(27,27,27)"/><stop offset="0.76" stop-color="rgb(18,18,18)"/><stop offset="0.84" stop-color="rgb(11,11,11)"/><stop offset="0.93" stop-color="rgb(5,5,5)"/><stop offset="1" stop-color="rgb(1,1,1)"/></radialGradient>
<radialGradient id="g23" gradientUnits="userSpaceOnUse" cx="0" cy="0" r="1" gradientTransform="translate(1434.4 400.4) rotate(-45) scale(72 18)"><stop offset="0" stop-color="#000" stop-opacity="0.3"/><stop offset="0.071" stop-color="#000" stop-opacity="0.293"/><stop offset="0.143" stop-color="#000" stop-opacity="0.274"/><stop offset="0.214" stop-color="#000" stop-opacity="0.244"/><stop offset="0.286" stop-color="#000" stop-opacity="0.208"/><stop offset="0.357" stop-color="#000" stop-opacity="0.169"/><stop offset="0.429" stop-color="#000" stop-opacity="0.131"/><stop offset="0.5" stop-color="#000" stop-opacity="0.097"/><stop offset="0.571" stop-color="#000" stop-opacity="0.069"/><stop offset="0.643" stop-color="#000" stop-opacity="0.047"/><stop offset="0.714" stop-color="#000" stop-opacity="0.03"/><stop offset="0.786" stop-color="#000" stop-opacity="0.019"/><stop offset="0.857" stop-color="#000" stop-opacity="0.011"/><stop offset="0.929" stop-color="#000" stop-opacity="0.006"/><stop offset="1" stop-color="#000" stop-opacity="0"/></radialGradient>
<radialGradient id="g24" gradientUnits="userSpaceOnUse" cx="0" cy="0" r="1" gradientTransform="translate(0 0) scale(61.648 50.878)"><stop offset="0" stop-color="#fff" stop-opacity="0.54"/><stop offset="0.062" stop-color="#fff" stop-opacity="0.539"/><stop offset="0.125" stop-color="#fff" stop-opacity="0.532"/><stop offset="0.188" stop-color="#fff" stop-opacity="0.516"/><stop offset="0.25" stop-color="#fff" stop-opacity="0.489"/><stop offset="0.312" stop-color="#fff" stop-opacity="0.45"/><stop offset="0.375" stop-color="#fff" stop-opacity="0.401"/><stop offset="0.438" stop-color="#fff" stop-opacity="0.344"/><stop offset="0.5" stop-color="#fff" stop-opacity="0.283"/><stop offset="0.562" stop-color="#fff" stop-opacity="0.222"/><stop offset="0.625" stop-color="#fff" stop-opacity="0.166"/><stop offset="0.688" stop-color="#fff" stop-opacity="0.117"/><stop offset="0.75" stop-color="#fff" stop-opacity="0.078"/><stop offset="0.812" stop-color="#fff" stop-opacity="0.049"/><stop offset="0.875" stop-color="#fff" stop-opacity="0.029"/><stop offset="0.938" stop-color="#fff" stop-opacity="0.016"/><stop offset="1" stop-color="#fff" stop-opacity="0"/></radialGradient>
<radialGradient id="g25" gradientUnits="userSpaceOnUse" cx="0" cy="0" r="1" gradientTransform="translate(1727 380.1) rotate(62) scale(23.792 22.093)"><stop offset="0" stop-color="#fff" stop-opacity="0.413"/><stop offset="0.083" stop-color="#fff" stop-opacity="0.4"/><stop offset="0.167" stop-color="#fff" stop-opacity="0.365"/><stop offset="0.25" stop-color="#fff" stop-opacity="0.312"/><stop offset="0.333" stop-color="#fff" stop-opacity="0.251"/><stop offset="0.417" stop-color="#fff" stop-opacity="0.189"/><stop offset="0.5" stop-color="#fff" stop-opacity="0.134"/><stop offset="0.583" stop-color="#fff" stop-opacity="0.089"/><stop offset="0.667" stop-color="#fff" stop-opacity="0.056"/><stop offset="0.75" stop-color="#fff" stop-opacity="0.033"/><stop offset="0.833" stop-color="#fff" stop-opacity="0.018"/><stop offset="0.917" stop-color="#fff" stop-opacity="0.009"/><stop offset="1" stop-color="#fff" stop-opacity="0"/></radialGradient>
<radialGradient id="g26" gradientUnits="userSpaceOnUse" cx="0" cy="0" r="1" gradientTransform="translate(0 0) scale(68.448 46.704)"><stop offset="0" stop-color="#fff" stop-opacity="0.52"/><stop offset="0.062" stop-color="#fff" stop-opacity="0.519"/><stop offset="0.125" stop-color="#fff" stop-opacity="0.512"/><stop offset="0.188" stop-color="#fff" stop-opacity="0.497"/><stop offset="0.25" stop-color="#fff" stop-opacity="0.471"/><stop offset="0.312" stop-color="#fff" stop-opacity="0.434"/><stop offset="0.375" stop-color="#fff" stop-opacity="0.386"/><stop offset="0.438" stop-color="#fff" stop-opacity="0.331"/><stop offset="0.5" stop-color="#fff" stop-opacity="0.272"/><stop offset="0.562" stop-color="#fff" stop-opacity="0.214"/><stop offset="0.625" stop-color="#fff" stop-opacity="0.16"/><stop offset="0.688" stop-color="#fff" stop-opacity="0.113"/><stop offset="0.75" stop-color="#fff" stop-opacity="0.075"/><stop offset="0.812" stop-color="#fff" stop-opacity="0.047"/><stop offset="0.875" stop-color="#fff" stop-opacity="0.028"/><stop offset="0.938" stop-color="#fff" stop-opacity="0.015"/><stop offset="1" stop-color="#fff" stop-opacity="0"/></radialGradient>
<radialGradient id="g27" gradientUnits="userSpaceOnUse" cx="0" cy="0" r="1" gradientTransform="translate(1687 425.7) rotate(40) scale(32.697 16.348)"><stop offset="0" stop-color="#fff" stop-opacity="0.229"/><stop offset="0.083" stop-color="#fff" stop-opacity="0.222"/><stop offset="0.167" stop-color="#fff" stop-opacity="0.202"/><stop offset="0.25" stop-color="#fff" stop-opacity="0.173"/><stop offset="0.333" stop-color="#fff" stop-opacity="0.139"/><stop offset="0.417" stop-color="#fff" stop-opacity="0.105"/><stop offset="0.5" stop-color="#fff" stop-opacity="0.074"/><stop offset="0.583" stop-color="#fff" stop-opacity="0.05"/><stop offset="0.667" stop-color="#fff" stop-opacity="0.031"/><stop offset="0.75" stop-color="#fff" stop-opacity="0.018"/><stop offset="0.833" stop-color="#fff" stop-opacity="0.01"/><stop offset="0.917" stop-color="#fff" stop-opacity="0.005"/><stop offset="1" stop-color="#fff" stop-opacity="0"/></radialGradient>
<radialGradient id="g28" gradientUnits="userSpaceOnUse" cx="0" cy="0" r="1" gradientTransform="translate(1711 399) rotate(45) scale(89 96)"><stop offset="0" stop-color="rgb(40,40,40)"/><stop offset="0.4" stop-color="rgb(38,38,38)"/><stop offset="0.58" stop-color="rgb(34,34,34)"/><stop offset="0.68" stop-color="rgb(27,27,27)"/><stop offset="0.76" stop-color="rgb(18,18,18)"/><stop offset="0.84" stop-color="rgb(11,11,11)"/><stop offset="0.93" stop-color="rgb(5,5,5)"/><stop offset="1" stop-color="rgb(1,1,1)"/></radialGradient>
<radialGradient id="g29" gradientUnits="userSpaceOnUse" cx="0" cy="0" r="1" gradientTransform="translate(1704 402.5) rotate(50) scale(48 13.5)"><stop offset="0" stop-color="#000" stop-opacity="0.35"/><stop offset="0.071" stop-color="#000" stop-opacity="0.342"/><stop offset="0.143" stop-color="#000" stop-opacity="0.319"/><stop offset="0.214" stop-color="#000" stop-opacity="0.285"/><stop offset="0.286" stop-color="#000" stop-opacity="0.242"/><stop offset="0.357" stop-color="#000" stop-opacity="0.197"/><stop offset="0.429" stop-color="#000" stop-opacity="0.153"/><stop offset="0.5" stop-color="#000" stop-opacity="0.114"/><stop offset="0.571" stop-color="#000" stop-opacity="0.081"/><stop offset="0.643" stop-color="#000" stop-opacity="0.055"/><stop offset="0.714" stop-color="#000" stop-opacity="0.035"/><stop offset="0.786" stop-color="#000" stop-opacity="0.022"/><stop offset="0.857" stop-color="#000" stop-opacity="0.013"/><stop offset="0.929" stop-color="#000" stop-opacity="0.007"/><stop offset="1" stop-color="#000" stop-opacity="0"/></radialGradient>
</defs>
<g id="chart">
<rect x="111.0" y="12.2" width="652.80" height="517.40" fill="none" stroke="#000" stroke-width="2.2"/>
<path d="M137.47 529.6 v-4.0 M137.47 12.2 v4.0 M170.43 529.6 v-4.0 M170.43 12.2 v4.0 M203.39 529.6 v-4.0 M203.39 12.2 v4.0 M236.36 529.6 v-7.5 M236.36 12.2 v7.5 M269.32 529.6 v-4.0 M269.32 12.2 v4.0 M302.29 529.6 v-4.0 M302.29 12.2 v4.0 M335.25 529.6 v-4.0 M335.25 12.2 v4.0 M368.22 529.6 v-7.5 M368.22 12.2 v7.5 M401.19 529.6 v-4.0 M401.19 12.2 v4.0 M434.15 529.6 v-4.0 M434.15 12.2 v4.0 M467.12 529.6 v-4.0 M467.12 12.2 v4.0 M500.08 529.6 v-7.5 M500.08 12.2 v7.5 M533.04 529.6 v-4.0 M533.04 12.2 v4.0 M566.01 529.6 v-4.0 M566.01 12.2 v4.0 M598.97 529.6 v-4.0 M598.97 12.2 v4.0 M631.94 529.6 v-7.5 M631.94 12.2 v7.5 M664.90 529.6 v-4.0 M664.90 12.2 v4.0 M697.87 529.6 v-4.0 M697.87 12.2 v4.0 M730.84 529.6 v-4.0 M730.84 12.2 v4.0 M111.0 503.73 h4.0 M763.8 503.73 h-4.0 M111.0 477.86 h4.0 M763.8 477.86 h-4.0 M111.0 451.99 h4.0 M763.8 451.99 h-4.0 M111.0 426.12 h7.5 M763.8 426.12 h-4.0 M111.0 400.25 h4.0 M763.8 400.25 h-7.5 M111.0 374.38 h4.0 M763.8 374.38 h-4.0 M111.0 348.51 h4.0 M763.8 348.51 h-4.0 M111.0 322.64 h7.5 M763.8 322.64 h-4.0 M111.0 296.77 h4.0 M763.8 296.77 h-4.0 M111.0 270.90 h4.0 M763.8 270.90 h-7.5 M111.0 245.03 h4.0 M763.8 245.03 h-4.0 M111.0 219.16 h7.5 M763.8 219.16 h-4.0 M111.0 193.29 h4.0 M763.8 193.29 h-4.0 M111.0 167.42 h4.0 M763.8 167.42 h-4.0 M111.0 141.55 h4.0 M763.8 141.55 h-7.5 M111.0 115.68 h7.5 M763.8 115.68 h-4.0 M111.0 89.81 h4.0 M763.8 89.81 h-4.0 M111.0 63.94 h4.0 M763.8 63.94 h-4.0 M111.0 38.07 h4.0 M763.8 38.07 h-4.0" fill="none" stroke="#000" stroke-width="1.9"/>
<g font-family="'Liberation Sans', sans-serif">
<text transform="translate(101.40 540.90) scale(0.975 1)" font-size="30.05" text-anchor="end" fill="#000" stroke="#000" stroke-width="0.3">0</text>
<text transform="translate(101.40 437.42) scale(0.975 1)" font-size="30.05" text-anchor="end" fill="#000" stroke="#000" stroke-width="0.3">200</text>
<text transform="translate(101.40 333.94) scale(0.975 1)" font-size="30.05" text-anchor="end" fill="#000" stroke="#000" stroke-width="0.3">400</text>
<text transform="translate(101.40 230.46) scale(0.975 1)" font-size="30.05" text-anchor="end" fill="#000" stroke="#000" stroke-width="0.3">600</text>
<text transform="translate(101.40 126.98) scale(0.975 1)" font-size="30.05" text-anchor="end" fill="#000" stroke="#000" stroke-width="0.3">800</text>
<text transform="translate(101.40 23.50) scale(0.975 1)" font-size="30.05" text-anchor="end" fill="#000" stroke="#000" stroke-width="0.3">1000</text>
<text transform="translate(771.40 540.90) scale(0.975 1)" font-size="30.05" text-anchor="start" fill="#000" stroke="#000" stroke-width="0.3">80</text>
<text transform="translate(771.40 411.55) scale(0.975 1)" font-size="30.05" text-anchor="start" fill="#000" stroke="#000" stroke-width="0.3">85</text>
<text transform="translate(771.40 282.20) scale(0.975 1)" font-size="30.05" text-anchor="start" fill="#000" stroke="#000" stroke-width="0.3">90</text>
<text transform="translate(771.40 152.85) scale(0.975 1)" font-size="30.05" text-anchor="start" fill="#000" stroke="#000" stroke-width="0.3">95</text>
<text transform="translate(771.40 23.50) scale(0.975 1)" font-size="30.05" text-anchor="start" fill="#000" stroke="#000" stroke-width="0.3">100</text>
<text transform="translate(236.36 568.30) scale(0.975 1)" font-size="30.05" text-anchor="middle" fill="#000" stroke="#000" stroke-width="0.3">200</text>
<text transform="translate(368.22 568.30) scale(0.975 1)" font-size="30.05" text-anchor="middle" fill="#000" stroke="#000" stroke-width="0.3">400</text>
<text transform="translate(500.08 568.30) scale(0.975 1)" font-size="30.05" text-anchor="middle" fill="#000" stroke="#000" stroke-width="0.3">600</text>
<text transform="translate(631.94 568.30) scale(0.975 1)" font-size="30.05" text-anchor="middle" fill="#000" stroke="#000" stroke-width="0.3">800</text>
<text transform="translate(763.80 568.30) scale(0.975 1)" font-size="30.05" text-anchor="middle" fill="#000" stroke="#000" stroke-width="0.3">1000</text>
<text transform="translate(437.50 610.90) scale(0.975 1)" font-size="35.90" text-anchor="middle" fill="#1a1a1a" stroke="#1a1a1a" stroke-width="0.3">Incident Power [W]</text>
<text transform="translate(26.80 270.90) rotate(-90) scale(0.975 1)" font-size="32.82" text-anchor="middle" fill="#000" stroke="#000" stroke-width="0.3">Power after Conversion [W]</text>
<text transform="translate(860.00 271.60) rotate(-90) scale(0.975 1)" font-size="35.90" text-anchor="middle" fill="#000" stroke="#000" stroke-width="0.3">Transmission [%]</text>
</g>
<polyline points="160.0,490.0 232.3,438.5 328.3,366.5 432.3,290.1 533.3,216.9 624.2,153.2 720.7,90.2" fill="none" stroke="#f00" stroke-width="2.2" stroke-dasharray="7.4 5.1"/>
<polyline points="160.0,258.4 232.3,253.5 328.1,195.6 432.3,189.3 533.3,195.1 624.2,212.5 720.7,250.4" fill="none" stroke="#00f" stroke-width="2.2" stroke-dasharray="7.4 5.1"/>
<path d="M156.0 486.0 l8.0 8.0 M156.0 494.0 l8.0 -8.0 M228.3 434.5 l8.0 8.0 M228.3 442.5 l8.0 -8.0 M324.3 362.5 l8.0 8.0 M324.3 370.5 l8.0 -8.0 M428.3 286.1 l8.0 8.0 M428.3 294.1 l8.0 -8.0 M529.3 212.9 l8.0 8.0 M529.3 220.9 l8.0 -8.0 M620.2 149.2 l8.0 8.0 M620.2 157.2 l8.0 -8.0 M716.7 86.2 l8.0 8.0 M716.7 94.2 l8.0 -8.0 M137.5 33.9 l8.0 8.0 M137.5 41.9 l8.0 -8.0" fill="none" stroke="#f00" stroke-width="2.3"/>
<rect x="155.6" y="254.0" width="8.8" height="8.8" fill="none" stroke="#00f" stroke-width="2.2"/>
<rect x="227.9" y="249.1" width="8.8" height="8.8" fill="none" stroke="#00f" stroke-width="2.2"/>
<rect x="323.7" y="191.2" width="8.8" height="8.8" fill="none" stroke="#00f" stroke-width="2.2"/>
<rect x="427.9" y="184.9" width="8.8" height="8.8" fill="none" stroke="#00f" stroke-width="2.2"/>
<rect x="528.9" y="190.7" width="8.8" height="8.8" fill="none" stroke="#00f" stroke-width="2.2"/>
<rect x="619.8" y="208.1" width="8.8" height="8.8" fill="none" stroke="#00f" stroke-width="2.2"/>
<rect x="716.3" y="246.0" width="8.8" height="8.8" fill="none" stroke="#00f" stroke-width="2.2"/>
<rect x="137.1" y="62.2" width="8.8" height="8.8" fill="none" stroke="#00f" stroke-width="2.2"/>
<path d="M123.9 37.9 h7.3 M151.7 37.9 h7.3" stroke="#f00" stroke-width="2.2"/>
<path d="M123.9 66.6 h7.3 M136 66.6 h11 M151.7 66.6 h7.3" stroke="#00f" stroke-width="2.2"/>
<g font-family="'Liberation Sans', sans-serif">
<text transform="translate(161.40 46.60) scale(0.975 1)" font-size="24.00" text-anchor="start" fill="#000" stroke="#000" stroke-width="0.3">Power</text>
<text transform="translate(162.10 75.90) scale(0.975 1)" font-size="24.00" text-anchor="start" fill="#000" stroke="#000" stroke-width="0.3">Transmission</text>
</g>
</g>
<g id="panels">
<g clip-path="url(#cp0)"><g filter="url(#cm0)">
<rect x="987.2" y="-29.4" width="342.6" height="337.0" fill="rgb(166,166,166)"/>
<path d="M1166.7 110.8 A31.5 31.5 0 1 1 1125.9 157.7" fill="none" stroke="rgb(219,219,219)" stroke-width="19" stroke-linecap="round" filter="url(#b5)"/>
<rect x="987.2" y="-29.4" width="342.6" height="337.0" fill="url(#g1)"/>
<rect x="987.2" y="-29.4" width="342.6" height="337.0" fill="url(#g2)"/>
<rect x="987.2" y="-29.4" width="342.6" height="337.0" fill="url(#g3)"/>
<rect x="987.2" y="-29.4" width="342.6" height="337.0" fill="url(#g4)"/>
<rect x="987.2" y="-29.4" width="342.6" height="337.0" fill="url(#g5)"/>
<path d="M1213 85 A78 78 0 0 1 1150 216" fill="none" stroke="rgb(38,38,38)" stroke-width="7" stroke-linecap="round" filter="url(#b4)" style="mix-blend-mode:lighten"/>
<path d="M1236 110 A92 92 0 0 1 1190 222" fill="none" stroke="rgb(33,33,33)" stroke-width="6" stroke-linecap="round" filter="url(#b4)" style="mix-blend-mode:lighten"/>
<rect x="987.2" y="-29.4" width="342.6" height="337.0" fill="url(#g6)" style="mix-blend-mode:lighten"/>
</g></g>
<ellipse cx="1157" cy="139.5" rx="110" ry="116.5" fill="none" stroke="#f0ebf5" stroke-width="1.45" clip-path="url(#cp0)"/>
<g clip-path="url(#cp1)"><g filter="url(#cm1)">
<rect x="1270.2" y="-29.4" width="328.8" height="337.0" fill="#000"/>
<rect x="-110" y="-110" width="220" height="220" transform="translate(1404.2 128) rotate(3)" fill="url(#g7)"/>
<rect x="-110" y="-110" width="220" height="220" transform="translate(1463.0 127.3) rotate(-3)" fill="url(#g8)"/>
<rect x="1270.2" y="-29.4" width="328.8" height="337.0" fill="url(#g9)"/>
<rect x="1270.2" y="-29.4" width="328.8" height="337.0" fill="url(#g10)" style="mix-blend-mode:lighten"/>
<rect x="1270.2" y="-29.4" width="328.8" height="337.0" fill="url(#g11)"/>
</g></g>
<ellipse cx="1439.9" cy="128" rx="122.2" ry="81.5" transform="rotate(0 1439.9 128)" fill="none" stroke="#ded6e8" stroke-width="1.0" clip-path="url(#cp1)"/>
<g clip-path="url(#cp2)"><g filter="url(#cm2)">
<rect x="1523.1" y="-29.4" width="331.2" height="337.0" fill="#000"/>
<g filter="url(#b4)"><rect x="-110" y="-110" width="220" height="129.5" transform="translate(1706.3 96.7) rotate(-2)" fill="url(#g12)"/></g>
<rect x="1523.1" y="-29.4" width="331.2" height="337.0" fill="url(#g13)"/>
<rect x="-110" y="-110" width="220" height="220" transform="translate(1700.5 154) rotate(4)" fill="url(#g14)"/>
<rect x="1523.1" y="-29.4" width="331.2" height="337.0" fill="url(#g15)"/>
<rect x="1523.1" y="-29.4" width="331.2" height="337.0" fill="url(#g16)" style="mix-blend-mode:lighten"/>
<rect x="1523.1" y="-29.4" width="331.2" height="337.0" fill="url(#g17)"/>
</g></g>
<ellipse cx="1703.5" cy="127" rx="81" ry="130.7" transform="rotate(0 1703.5 127)" fill="none" stroke="#ded6e8" stroke-width="1.0" clip-path="url(#cp2)"/>
<g clip-path="url(#cp3)"><g filter="url(#cm3)">
<rect x="1262.0" y="240.9" width="337.0" height="336.8" fill="#000"/>
<rect x="1262.0" y="240.9" width="337.0" height="336.8" fill="url(#g18)"/>
<rect x="1262.0" y="240.9" width="337.0" height="336.8" fill="url(#g19)"/>
<rect x="1262.0" y="240.9" width="337.0" height="336.8" fill="url(#g20)"/>
<rect x="1262.0" y="240.9" width="337.0" height="336.8" fill="url(#g21)"/>
<rect x="1262.0" y="240.9" width="337.0" height="336.8" fill="url(#g22)" style="mix-blend-mode:lighten"/>
<rect x="1262.0" y="240.9" width="337.0" height="336.8" fill="url(#g23)"/>
</g></g>
<ellipse cx="1440" cy="402.7" rx="109.6" ry="123.5" transform="rotate(0 1440 402.7)" fill="none" stroke="#ded6e8" stroke-width="1.0" clip-path="url(#cp3)"/>
<g clip-path="url(#cp4)"><g filter="url(#cm4)">
<rect x="1528.1" y="244.1" width="326.9" height="337.5" fill="#000"/>
<rect x="-110" y="-110" width="220" height="220" transform="translate(1725.1 382.6) rotate(62)" fill="url(#g24)"/>
<rect x="1528.1" y="244.1" width="326.9" height="337.5" fill="url(#g25)"/>
<g filter="url(#b4)"><rect x="-110" y="-17.5" width="220" height="127.5" transform="translate(1686.5 421.8) rotate(46)" fill="url(#g26)"/></g>
<rect x="1528.1" y="244.1" width="326.9" height="337.5" fill="url(#g27)"/>
<rect x="1528.1" y="244.1" width="326.9" height="337.5" fill="url(#g28)" style="mix-blend-mode:lighten"/>
<rect x="1528.1" y="244.1" width="326.9" height="337.5" fill="url(#g29)"/>
</g></g>
<ellipse cx="1708.5" cy="400" rx="104" ry="104" transform="rotate(0 1708.5 400)" fill="none" stroke="#ded6e8" stroke-width="1.0" clip-path="url(#cp4)"/>
<path d="M1539.2 106.8 L1539.2 143.6" stroke="#fff" stroke-width="2.2" fill="none"/>
<path d="M1539.2 99.2 L1534.0 108.7 L1544.4 108.7 z" fill="#fff"/>
<path d="M1539.2 151.2 L1534.0 141.7 L1544.4 141.7 z" fill="#fff"/>
<path d="M1684.1 223.0 L1720.9 223.0" stroke="#fff" stroke-width="2.2" fill="none"/>
<path d="M1676.5 223.0 L1686.0 228.2 L1686.0 217.8 z" fill="#fff"/>
<path d="M1728.5 223.0 L1719.0 228.2 L1719.0 217.8 z" fill="#fff"/>
<path d="M1481.9 499.2 L1507.6 473.4" stroke="#fff" stroke-width="2.2" fill="none"/>
<path d="M1476.5 504.6 L1486.9 501.5 L1479.5 494.2 z" fill="#fff"/>
<path d="M1513.0 468.0 L1510.0 478.4 L1502.6 471.1 z" fill="#fff"/>
<path d="M1603.1 473.4 L1628.8 499.2" stroke="#fff" stroke-width="2.2" fill="none"/>
<path d="M1597.7 468.0 L1600.7 478.4 L1608.1 471.1 z" fill="#fff"/>
<path d="M1634.2 504.6 L1623.8 501.5 L1631.2 494.2 z" fill="#fff"/>
</g>
<g id="diagram">
<path d="M1138.08 323.81 L1144.12 320.59" stroke="#000" stroke-width="2.95" stroke-linecap="round" fill="none"/>
<path d="M1176.86 319.56 L1183.34 318.64" stroke="#000" stroke-width="3.05" stroke-linecap="round" fill="none"/>
<ellipse cx="1217.2" cy="328.5" rx="4.40" ry="1.20" transform="rotate(8 1217.2 328.5)" fill="none" stroke="#000" stroke-width="1.35"/>
<ellipse cx="1248.5" cy="349.1" rx="4.60" ry="1.60" transform="rotate(33 1248.5 349.1)" fill="none" stroke="#000" stroke-width="1.35"/>
<path d="M1266.65 375.17 L1270.75 381.03" stroke="#000" stroke-width="2.35" stroke-linecap="round" fill="none"/>
<path d="M1276.10 408.77 L1276.10 415.62" stroke="#000" stroke-width="2.15" stroke-linecap="round" fill="none"/>
<path d="M1267.45 449.18 L1269.95 443.02" stroke="#000" stroke-width="2.85" stroke-linecap="round" fill="none"/>
<path d="M1245.64 477.69 L1250.96 472.91" stroke="#000" stroke-width="2.35" stroke-linecap="round" fill="none"/>
<path d="M1213.65 497.19 L1220.75 494.61" stroke="#000" stroke-width="1.95" stroke-linecap="round" fill="none"/>
<path d="M1176.47 505.30 L1183.72 505.30" stroke="#000" stroke-width="2.35" stroke-linecap="round" fill="none"/>
<path d="M1138.38 501.32 L1144.42 503.28" stroke="#000" stroke-width="2.65" stroke-linecap="round" fill="none"/>
<path d="M1103.58 485.27 L1109.82 489.33" stroke="#000" stroke-width="1.85" stroke-linecap="round" fill="none"/>
<path d="M1078.00 459.06 L1082.60 464.54" stroke="#000" stroke-width="2.15" stroke-linecap="round" fill="none"/>
<path d="M1064.97 426.86 L1067.03 432.54" stroke="#000" stroke-width="2.95" stroke-linecap="round" fill="none"/>
<path d="M1066.00 391.57 L1066.00 398.22" stroke="#000" stroke-width="2.85" stroke-linecap="round" fill="none"/>
<path d="M1079.18 365.68 L1081.42 359.52" stroke="#000" stroke-width="1.95" stroke-linecap="round" fill="none"/>
<path d="M1104.11 340.05 L1108.89 334.35" stroke="#000" stroke-width="1.75" stroke-linecap="round" fill="none"/>
<path d="M1167.19 366.62 L1173.41 363.98" stroke="#000" stroke-width="2.85" stroke-linecap="round" fill="none"/>
<path d="M1193.34 370.63 L1199.86 372.37" stroke="#000" stroke-width="2.85" stroke-linecap="round" fill="none"/>
<path d="M1213.22 386.27 L1218.78 390.93" stroke="#000" stroke-width="1.75" stroke-linecap="round" fill="none"/>
<ellipse cx="1222.9" cy="412.2" rx="4.30" ry="1.40" transform="rotate(90 1222.9 412.2)" fill="none" stroke="#000" stroke-width="1.35"/>
<ellipse cx="1216.0" cy="435.6" rx="4.30" ry="1.40" transform="rotate(-38 1216.0 435.6)" fill="none" stroke="#000" stroke-width="1.35"/>
<path d="M1193.23 453.08 L1199.97 452.72" stroke="#000" stroke-width="2.85" stroke-linecap="round" fill="none"/>
<path d="M1166.83 457.70 L1173.77 460.10" stroke="#000" stroke-width="2.15" stroke-linecap="round" fill="none"/>
<path d="M1140.64 450.98 L1146.56 454.82" stroke="#000" stroke-width="2.05" stroke-linecap="round" fill="none"/>
<path d="M1121.93 432.92 L1126.27 438.48" stroke="#000" stroke-width="2.15" stroke-linecap="round" fill="none"/>
<path d="M1116.14 408.94 L1118.26 415.46" stroke="#000" stroke-width="1.75" stroke-linecap="round" fill="none"/>
<path d="M1124.12 385.13 L1124.48 392.07" stroke="#000" stroke-width="1.75" stroke-linecap="round" fill="none"/>
<path d="M1142.50 375.10 L1144.70 368.30" stroke="#000" stroke-width="2.15" stroke-linecap="round" fill="none"/>
</g>
<g id="labels">
<g font-family="'Liberation Serif', serif" fill="#000">
<text y="613.6" font-size="54.6" stroke="#000" stroke-width="0.5"><tspan x="1148.4" textLength="150.5" lengthAdjust="spacingAndGlyphs">DOAP:</tspan> <tspan x="1313.6" textLength="149.5" lengthAdjust="spacingAndGlyphs">95.6%</tspan> <tspan x="1479" textLength="44.5" lengthAdjust="spacingAndGlyphs">at</tspan> <tspan x="1538" textLength="85" lengthAdjust="spacingAndGlyphs">850</tspan> <tspan x="1646.5" textLength="47" lengthAdjust="spacingAndGlyphs">W</tspan></text>
<text x="430" y="715.9" font-size="76.5" text-anchor="middle" stroke="#000" stroke-width="0.5">a</text>
<text x="1422.6" y="724" font-size="76.5" text-anchor="middle" stroke="#000" stroke-width="0.5">b</text>
</g>
</g>
</svg>
</body></html>
